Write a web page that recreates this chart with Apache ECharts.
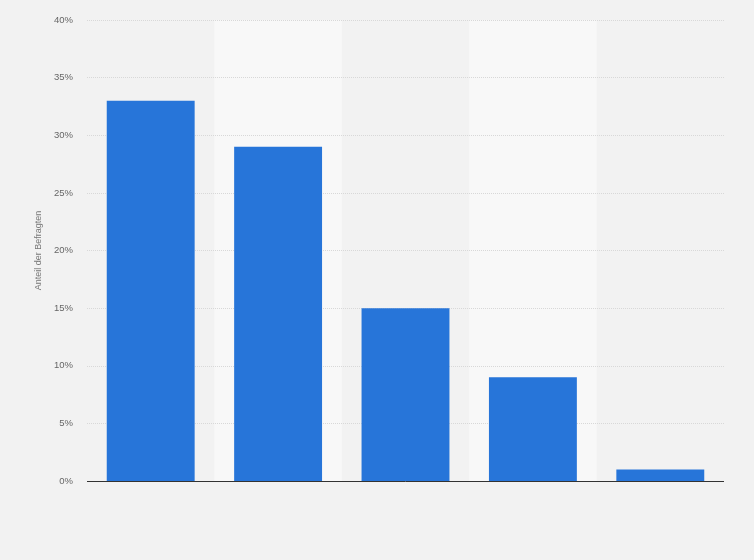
<!DOCTYPE html>
<html><head><meta charset="utf-8">
<script src="https://cdn.jsdelivr.net/npm/echarts@6/dist/echarts.min.js"></script>
<style>html,body{margin:0;padding:0;background:#f2f2f2}#c{width:754px;height:560px}</style>
</head><body><div id="c"></div>
<script>
const categories = ['A', 'B', 'C', 'D', 'E'];
const values = [33, 29, 15, 9, 1];
const yTicks = { min: 0, max: 40, interval: 5 };
const yTitle = 'Anteil der Befragten';

const chart = echarts.init(document.getElementById('c'));
chart.setOption({
  backgroundColor: '#f2f2f2',
  animation: false,
  grid: { left: 87, right: 30, top: 20, bottom: 79 },
  xAxis: {
    type: 'category', data: categories, z: 0,
    axisLine: { show: false },
    axisTick: { show: false }, axisLabel: { show: false },
    splitArea: { show: true, areaStyle: { color: ['rgba(0,0,0,0)', '#f8f8f8'] } }
  },
  yAxis: {
    type: 'value', min: yTicks.min, max: yTicks.max, interval: yTicks.interval, z: 1,
    name: yTitle, nameLocation: 'middle', nameGap: 42, nameRotate: 90,
    nameTextStyle: { color: '#777', fontSize: 9, fontFamily: 'Liberation Sans' },
    axisLine: { show: false }, axisTick: { show: false },
    axisLabel: { formatter: '{value}%', color: '#666', fontSize: 9.5, fontFamily: 'Liberation Sans', margin: 14 },
    splitLine: { lineStyle: { color: '#d8d8d8', type: [1, 1] } }
  },
  series: [{
    type: 'bar', data: values, barWidth: '69%', z: 2,
    itemStyle: { color: '#2775d9' },
    markLine: {
      silent: true, symbol: 'none', label: { show: false },
      lineStyle: { color: '#333', type: 'solid', width: 1 },
      data: [{ yAxis: 0 }]
    }
  }]
});
</script></body></html>
